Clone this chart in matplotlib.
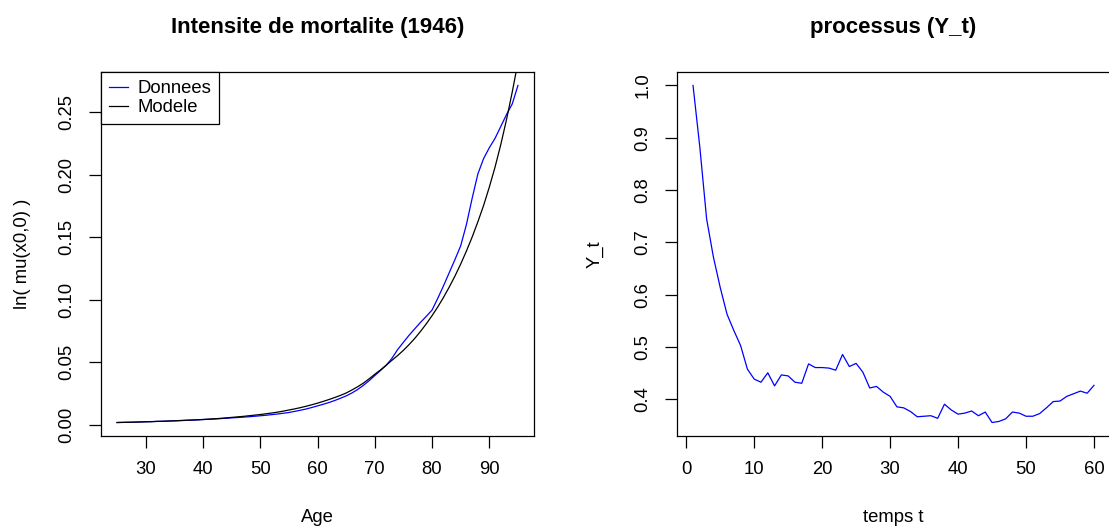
import numpy as np
import matplotlib
matplotlib.use("Agg")
import matplotlib.pyplot as plt

# --- data ---
ages = list(range(25, 96))
donnees = [0.0016, 0.0017, 0.0018, 0.0019, 0.0021, 0.0022, 0.0023, 0.0025, 0.0026, 0.0028,
           0.0029, 0.0031, 0.0033, 0.0035, 0.0037, 0.0040, 0.0042, 0.0044, 0.0047, 0.0050,
           0.0053, 0.0056, 0.0059, 0.0062, 0.0066, 0.0070, 0.0074, 0.0079, 0.0084, 0.0090,
           0.0096, 0.0105, 0.0114, 0.0124, 0.0136, 0.0149, 0.0162, 0.0176, 0.0192, 0.0210,
           0.0229, 0.0252, 0.0280, 0.0313, 0.0350, 0.0392, 0.0432, 0.0474, 0.0530, 0.0600,
           0.0658, 0.0715, 0.0767, 0.0818, 0.0866, 0.0916, 0.1010, 0.1110, 0.1215, 0.1320,
           0.1430, 0.1600, 0.1810, 0.2005, 0.2128, 0.2215, 0.2290, 0.2385, 0.2480, 0.2565,
           0.2713]
modele = [0.0016, 0.0017, 0.0018, 0.0019, 0.0020, 0.0022, 0.0023, 0.0025, 0.0026, 0.0028,
          0.0030, 0.0032, 0.0034, 0.0036, 0.0038, 0.0040, 0.0043, 0.0046, 0.0049, 0.0053,
          0.0057, 0.0061, 0.0065, 0.0070, 0.0075, 0.0080, 0.0086, 0.0092, 0.0099, 0.0107,
          0.0116, 0.0125, 0.0135, 0.0146, 0.0158, 0.0171, 0.0185, 0.0200, 0.0216, 0.0233,
          0.0252, 0.0276, 0.0302, 0.0331, 0.0365, 0.0402, 0.0437, 0.0475, 0.0514, 0.0552,
          0.0594, 0.0640, 0.0690, 0.0746, 0.0806, 0.0871, 0.0941, 0.1017, 0.1100, 0.1188,
          0.1284, 0.1388, 0.1500, 0.1622, 0.1753, 0.1900, 0.2060, 0.2240, 0.2440, 0.2660,
          0.2900]

temps = list(range(1, 61))
y_t = [1.000, 0.882, 0.745, 0.672, 0.614, 0.563, 0.532, 0.503, 0.458, 0.439,
       0.433, 0.451, 0.426, 0.447, 0.445, 0.433, 0.431, 0.468, 0.461, 0.461,
       0.460, 0.456, 0.486, 0.463, 0.469, 0.452, 0.422, 0.425, 0.414, 0.406,
       0.386, 0.384, 0.377, 0.367, 0.368, 0.369, 0.364, 0.391, 0.380, 0.372,
       0.374, 0.378, 0.369, 0.376, 0.356, 0.358, 0.363, 0.376, 0.374, 0.368,
       0.368, 0.373, 0.384, 0.396, 0.397, 0.406, 0.411, 0.416, 0.412, 0.427]

age_ticks = [30, 40, 50, 60, 70, 80, 90]
mu_ticks = [0.00, 0.05, 0.10, 0.15, 0.20, 0.25]
t_ticks = [0, 10, 20, 30, 40, 50, 60]
yt_ticks = [0.4, 0.5, 0.6, 0.7, 0.8, 0.9, 1.0]


def r_range(vals):
    # R style 4% extension of the data range
    lo, hi = min(vals), max(vals)
    d = (hi - lo) * 0.04
    return lo - d, hi + d


def style_axes(ax):
    for s in ax.spines.values():
        s.set_linewidth(0.9)
        s.set_color("black")
    ax.tick_params(direction="out", length=8.3, width=0.9, pad=10, labelsize=13.3)
    ax.tick_params(axis="y", labelrotation=90)
    for lab in ax.get_yticklabels():
        lab.set_va("center")


def main():
    plt.rcParams["font.family"] = ["Liberation Sans", "DejaVu Sans"]
    W, H = 1109, 531
    fig = plt.figure(figsize=(W / 100, H / 100), dpi=100)

    # axes boxes in pixels: left, top, right, bottom
    ax1 = fig.add_axes([101 / W, (H - 436) / H, 433 / W, 364 / H])
    ax2 = fig.add_axes([677 / W, (H - 436) / H, 433 / W, 364 / H])

    # left: mortality intensity
    ax1.plot(ages, donnees, color="blue", lw=0.9, label="Donnees")
    ax1.plot(ages, modele, color="black", lw=0.9, label="Modele")
    ax1.set_xlim(*r_range(ages))
    ax1.set_ylim(*r_range(donnees))
    ax1.set_xticks(age_ticks)
    ax1.set_yticks(mu_ticks)
    ax1.set_yticklabels(["%.2f" % v for v in mu_ticks])
    style_axes(ax1)
    ax1.set_title("Intensite de mortalite (1946)", fontsize=16, fontweight="bold", pad=28)
    ax1.set_xlabel("Age", fontsize=13.3, va="center")
    ax1.set_ylabel("ln( mu(x0,0) )", fontsize=13.3, va="center")
    ax1.xaxis.set_label_coords(0.5, (436 - 518) / 364)
    ax1.yaxis.set_label_coords((23 - 101) / 433, 0.5)
    leg = ax1.legend(loc="upper left", fontsize=13.3, frameon=True, fancybox=False,
                     borderaxespad=0, borderpad=0.45, labelspacing=0.1,
                     handlelength=1.0, handletextpad=0.5)
    leg.get_frame().set_edgecolor("black")
    leg.get_frame().set_linewidth(0.9)
    leg.get_frame().set_alpha(1)

    # right: process Y_t
    ax2.plot(temps, y_t, color="blue", lw=0.9)
    ax2.set_xlim(*r_range(temps))
    ax2.set_ylim(*r_range(y_t))
    ax2.set_xticks(t_ticks)
    ax2.set_yticks(yt_ticks)
    ax2.set_yticklabels(["%.1f" % v for v in yt_ticks])
    style_axes(ax2)
    ax2.set_title("processus (Y_t)", fontsize=16, fontweight="bold", pad=28)
    ax2.set_xlabel("temps t", fontsize=13.3, va="center")
    ax2.set_ylabel("Y_t", fontsize=13.3, va="center")
    ax2.xaxis.set_label_coords(0.5, (436 - 518) / 364)
    ax2.yaxis.set_label_coords((595 - 677) / 433, 0.5)

    fig.savefig("out.png", dpi=100)
    return 0


if __name__ == "__main__":
    main()
